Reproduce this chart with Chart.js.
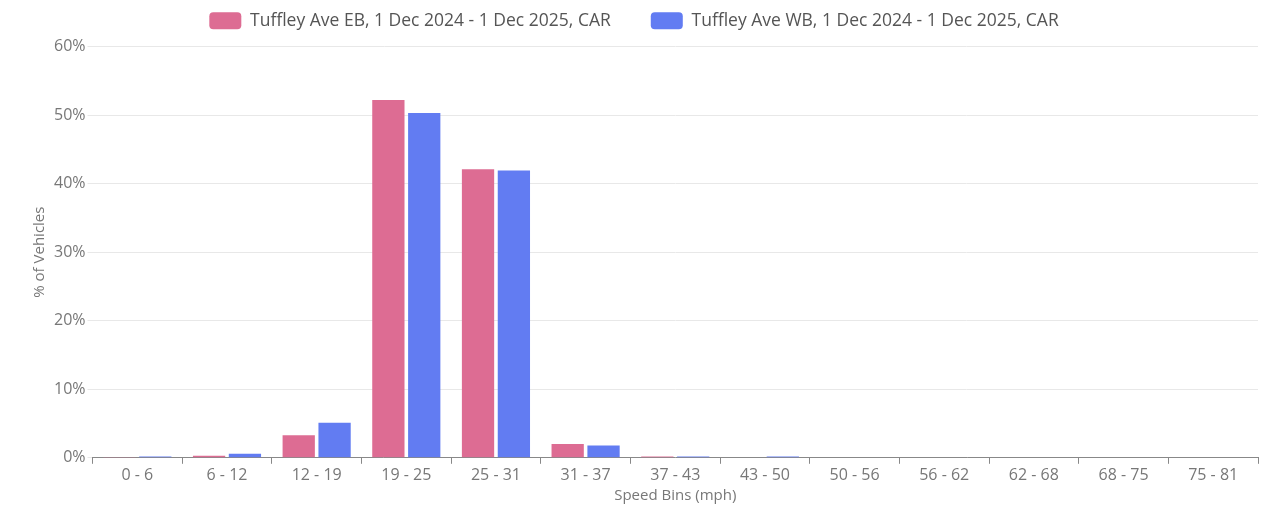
<!DOCTYPE html>
<html>
  <head>
    <meta charset="UTF-8">
    <title>Speed Bins</title>
    <script src="https://cdn.jsdelivr.net/npm/chart.js@4.4.1/dist/chart.umd.min.js"></script>
    <style>
      html, body { margin: 0; padding: 0; background: #fff; }
      #wrap { width: 1268px; height: 512px; }
    </style>
  </head>
  <body>
    <div id="wrap"><canvas id="chart"></canvas></div>
    <script>
      const bins = ["0 - 6", "6 - 12", "12 - 19", "19 - 25", "25 - 31", "31 - 37", "37 - 43",
                    "43 - 50", "50 - 56", "56 - 62", "62 - 68", "68 - 75", "75 - 81"]
      const ebValues = [0.05, 0.3, 3.3, 52.2, 42.1, 2.0, 0.2, 0, 0, 0, 0, 0, 0]
      const wbValues = [0.2, 0.6, 5.1, 50.3, 41.9, 1.8, 0.2, 0.2, 0, 0, 0, 0, 0]
      const ebLabel = "Tuffley Ave EB, 1 Dec 2024 - 1 Dec 2025, CAR"
      const wbLabel = "Tuffley Ave WB, 1 Dec 2024 - 1 Dec 2025, CAR"

      const fontFamily = "'Open Sans', 'Noto Sans', sans-serif"

      // wide gaps between legend items, then fix the legend height by hand
      const legendFit = {
        id: 'legendFit',
        beforeInit(chart) {
          const fit = chart.legend.fit
          chart.legend.fit = function() {
            fit.bind(chart.legend)()
            this.height += 7
          }
        }
      }

      let ctx = document.getElementById("chart").getContext("2d")
      let chart1 = new Chart(ctx, {
        type: 'bar',
        data: {
          labels: bins,
          datasets: [{
            label: ebLabel,
            data: ebValues,
            backgroundColor: '#dd6c93',
            borderWidth: 0
          }, {
            label: wbLabel,
            data: wbValues,
            backgroundColor: '#627cf2',
            borderWidth: 0
          }]
        },
        options: {
          responsive: true,
          maintainAspectRatio: false,
          animation: false,
          layout: { padding: { left: 10, right: 10, top: -28, bottom: 7 } },
          plugins: {
            legend: {
              labels: {
                boxWidth: 32,
                boxHeight: 17,
                useBorderRadius: true,
                borderRadius: 4,
                padding: 40,
                color: '#555',
                font: { family: fontFamily, size: 17.5 }
              }
            },
            tooltip: { enabled: false }
          },
          scales: {
            x: {
              grid: { display: true, drawOnChartArea: false, tickLength: 6, color: '#888' },
              border: { color: '#888' },
              ticks: { color: '#777', padding: 2, font: { family: fontFamily, size: 16 } },
              title: {
                display: true,
                text: 'Speed Bins (mph)',
                color: '#777',
                font: { family: fontFamily, size: 15 },
                padding: { top: 0, bottom: 0 }
              }
            },
            y: {
              min: 0,
              max: 60,
              grid: { color: '#e8e8e8', tickLength: 5 },
              border: { display: false },
              ticks: {
                stepSize: 10,
                color: '#777',
                padding: 2,
                font: { family: fontFamily, size: 16 },
                callback: v => v + '%'
              },
              title: {
                display: true,
                text: '% of Vehicles',
                color: '#777',
                font: { family: fontFamily, size: 15 },
                padding: { top: 21, bottom: 3 }
              }
            }
          }
        },
        plugins: [legendFit]
      })
    </script>
  </body>
</html>
